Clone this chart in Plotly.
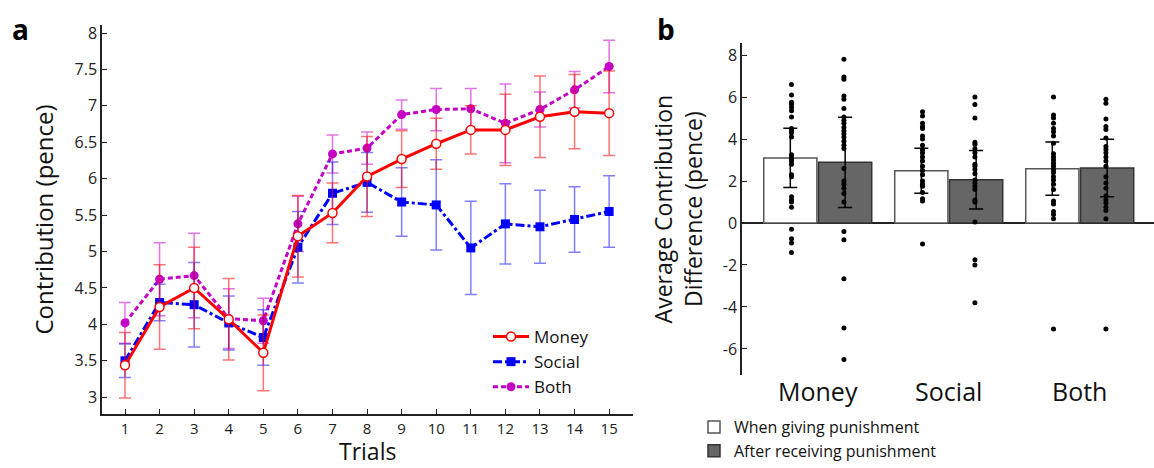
import plotly.graph_objects as go

# ---------- Panel a data ----------
trials = list(range(1, 16))
money = [3.44, 4.24, 4.50, 4.07, 3.61, 5.21, 5.53, 6.03, 6.27, 6.48, 6.67, 6.67, 6.85, 6.92, 6.90]
money_err = [0.45, 0.58, 0.56, 0.56, 0.52, 0.56, 0.41, 0.55, 0.39, 0.35, 0.33, 0.49, 0.56, 0.51, 0.58]
social = [3.50, 4.30, 4.27, 4.02, 3.82, 5.06, 5.80, 5.95, 5.68, 5.64, 5.05, 5.38, 5.34, 5.44, 5.55]
social_err = [0.23, 0.25, 0.58, 0.37, 0.38, 0.49, 0.43, 0.41, 0.47, 0.62, 0.64, 0.55, 0.50, 0.45, 0.49]
both = [4.02, 4.62, 4.67, 4.08, 4.05, 5.38, 6.34, 6.42, 6.88, 6.95, 6.96, 6.76, 6.95, 7.22, 7.54]
both_err = [0.28, 0.50, 0.58, 0.41, 0.31, 0.38, 0.26, 0.22, 0.20, 0.29, 0.28, 0.54, 0.24, 0.25, 0.36]

a_yticks = [3, 3.5, 4, 4.5, 5, 5.5, 6, 6.5, 7, 7.5, 8]
a_yticktext = ["3", "3.5", "4", "4.5", "5", "5.5", "6", "6.5", "7", "7.5", "8"]

# ---------- Panel b data ----------
groups = ["Money", "Social", "Both"]
giving_mean = [3.10, 2.49, 2.59]
giving_err = [1.41, 1.07, 1.27]
receiving_mean = [2.89, 2.06, 2.62]
receiving_err = [2.15, 1.39, 1.37]

money_giving_pts = [6.6, 6.1, 5.75, 5.65, 5.5, 5.35, 5.05, 4.5, 4.4, 4.3, 4.1, 3.25, 3.2, 3.05,
                    2.95, 2.8, 2.3, 2.2, 1.25, 1.1, 1.0, 0.75, -0.3, -0.75, -0.95, -1.4]
money_receiving_pts = [7.8, 6.95, 6.85, 6.05, 5.9, 5.45, 5.05, 4.9, 4.75, 4.55, 4.4, 4.25, 4.1,
                       3.9, 3.7, 3.55, 2.6, 2.0, 1.85, 1.65, 1.4, 1.0, -0.4, -0.8, -2.65, -5.0, -6.5]
social_giving_pts = [5.3, 5.1, 4.75, 4.6, 4.5, 4.15, 4.0, 3.7, 3.5, 3.35, 3.15, 2.95, 2.7, 2.5,
                     2.3, 2.0, 1.85, 1.75, 1.45, 1.15, 1.05, -1.0]
social_receiving_pts = [6.0, 5.65, 5.0, 3.85, 3.75, 3.55, 3.35, 3.15, 2.8, 2.7, 2.55, 2.35, 2.05,
                        1.9, 1.75, 1.6, 1.1, 1.0, 0.05, -1.75, -2.0, -3.8]
both_giving_pts = [6.0, 5.15, 5.0, 4.75, 4.5, 4.35, 4.15, 3.8, 3.3, 3.15, 3.0, 2.85, 2.7, 2.55,
                   2.4, 2.2, 2.05, 1.85, 1.6, 1.05, 0.9, 0.55, 0.4, 0.2, -5.05]
both_receiving_pts = [5.9, 5.7, 4.95, 4.6, 4.45, 4.05, 3.65, 3.5, 3.35, 3.15, 2.95, 2.7, 2.2,
                      1.9, 1.65, 1.3, 1.1, 0.95, 0.75, 0.6, 0.2, -5.05]

b_yticks = [-6, -4, -2, 0, 2, 4, 6, 8]
b_yticktext = ["-6", "-4", "-2", "0", "2", "4", "6", "8"]

FONT = "Open Sans"
W, H = 1154, 468

fig = go.Figure()

# ---------- Panel a traces ----------
fig.add_trace(go.Scatter(
    x=trials, y=both, name="Both", mode="lines+markers",
    line=dict(color="#c400c4", width=3, dash="5px,3px"),
    marker=dict(symbol="circle", size=9, color="#c400c4"),
    error_y=dict(type="data", array=both_err, color="rgba(204,0,204,0.55)", thickness=1.5, width=6),
    offsetgroup="a", xaxis="x", yaxis="y", legend="legend", legendrank=3))
fig.add_trace(go.Scatter(
    x=trials, y=social, name="Social", mode="lines+markers",
    line=dict(color="#0000ff", width=3, dash="dashdot"),
    marker=dict(symbol="square", size=9, color="#0000ff"),
    error_y=dict(type="data", array=social_err, color="rgba(0,0,255,0.5)", thickness=1.5, width=6),
    offsetgroup="a", xaxis="x", yaxis="y", legend="legend", legendrank=2))
fig.add_trace(go.Scatter(
    x=trials, y=money, name="Money", mode="lines+markers",
    line=dict(color="#ff0000", width=3),
    marker=dict(symbol="circle", size=9, color="white", line=dict(color="#ff0000", width=1.5)),
    error_y=dict(type="data", array=money_err, color="rgba(255,0,0,0.55)", thickness=1.5, width=6),
    offsetgroup="a", xaxis="x", yaxis="y", legend="legend", legendrank=1))

# ---------- Panel b traces ----------
fig.add_trace(go.Bar(
    x=groups, y=giving_mean, name="When giving punishment",
    marker=dict(color="white", line=dict(color="#555555", width=1.5)),
    error_y=dict(type="data", array=giving_err, color="black", thickness=1.5, width=7),
    offsetgroup="g", xaxis="x2", yaxis="y2", legend="legend2"))
fig.add_trace(go.Bar(
    x=groups, y=receiving_mean, name="After receiving punishment",
    marker=dict(color="#666666", line=dict(color="#333333", width=1.5)),
    error_y=dict(type="data", array=receiving_err, color="black", thickness=1.5, width=7),
    offsetgroup="r", xaxis="x2", yaxis="y2", legend="legend2"))

giving_pts = [money_giving_pts, social_giving_pts, both_giving_pts]
receiving_pts = [money_receiving_pts, social_receiving_pts, both_receiving_pts]
gx, gy, rx, ry = [], [], [], []
for g, gp, rp in zip(groups, giving_pts, receiving_pts):
    gx += [g] * len(gp)
    gy += gp
    rx += [g] * len(rp)
    ry += rp
fig.add_trace(go.Scatter(x=gx, y=gy, mode="markers", marker=dict(color="black", size=5),
                         offsetgroup="g", showlegend=False, xaxis="x2", yaxis="y2"))
fig.add_trace(go.Scatter(x=rx, y=ry, mode="markers", marker=dict(color="black", size=5),
                         offsetgroup="r", showlegend=False, xaxis="x2", yaxis="y2"))

axis_font = dict(family=FONT, size=16, color="#222222")

fig.update_layout(
    template="none",
    width=W, height=H,
    margin=dict(l=0, r=0, t=0, b=0),
    paper_bgcolor="white", plot_bgcolor="white",
    font=dict(family=FONT, color="#222222"),
    barmode="group", bargap=0.163, bargroupgap=0.03,
    scattermode="group",
    xaxis=dict(domain=[102 / W, 633 / W], range=[0.335, 15.69], tickvals=trials,
               ticks="inside", ticklen=5, tickwidth=1.2, tickcolor="#222",
               showline=True, linecolor="#222", linewidth=1.5, showgrid=False, zeroline=False,
               tickfont=dict(family=FONT, size=15, color="#222222"), automargin=False, anchor="y"),
    yaxis=dict(domain=[1 - 414 / H, 1 - 25 / H], range=[2.77, 8.11], tickvals=a_yticks,
               ticktext=a_yticktext, ticks="inside", ticklen=5, tickwidth=1.2, tickcolor="#222",
               showline=True, linecolor="#222", linewidth=1.5, showgrid=False, zeroline=False,
               tickfont=axis_font, automargin=False, anchor="x",
               title=dict(text="Contribution (pence)", font=dict(family=FONT, size=24, color="#111"),
                          standoff=14)),
    xaxis2=dict(domain=[742 / W, 1.0], range=[-0.578, 2.567], type="category",
                showline=False, ticks="", showgrid=False, zeroline=False, automargin=False,
                anchor="y2", tickfont=dict(family=FONT, size=25, color="#111")),
    yaxis2=dict(domain=[1 - 375 / H, 1 - 43.3 / H], range=[-7.24, 8.56], tickvals=b_yticks,
                ticktext=b_yticktext, ticks="inside", ticklen=5, tickwidth=1.2, tickcolor="#222",
                showline=True, linecolor="#222", linewidth=1.5, showgrid=False,
                zeroline=True, zerolinecolor="#222", zerolinewidth=1.5,
                tickfont=axis_font, anchor="x2", automargin=False,
                title=dict(text="Average Contribution<br>Difference (pence)",
                           font=dict(family=FONT, size=23, color="#111"), standoff=14)),
    legend=dict(x=488 / W, y=1 - 319 / H, xanchor="left", yanchor="top",
                bgcolor="rgba(0,0,0,0)", font=dict(family=FONT, size=17, color="#111"),
                tracegroupgap=0, itemwidth=36),
    legend2=dict(x=694 / W, y=0, xanchor="left", yanchor="bottom",
                 bgcolor="rgba(0,0,0,0)", font=dict(family=FONT, size=16, color="#111"),
                 tracegroupgap=0, traceorder="normal"),
    annotations=[
        dict(text="Trials", x=(102 + 633) / 2 / W, y=0, xref="paper", yref="paper",
             xanchor="center", yanchor="bottom", showarrow=False, borderpad=0,
             font=dict(family=FONT, size=23, color="#111")),
        dict(text="<b>a</b>", x=10 / W, y=1 - 8 / H, xref="paper", yref="paper",
             xanchor="left", yanchor="top", showarrow=False,
             font=dict(family=FONT, size=28, color="black")),
        dict(text="<b>b</b>", x=655 / W, y=1 - 8 / H, xref="paper", yref="paper",
             xanchor="left", yanchor="top", showarrow=False,
             font=dict(family=FONT, size=28, color="black")),
    ],
)

fig.write_html("out.html")
